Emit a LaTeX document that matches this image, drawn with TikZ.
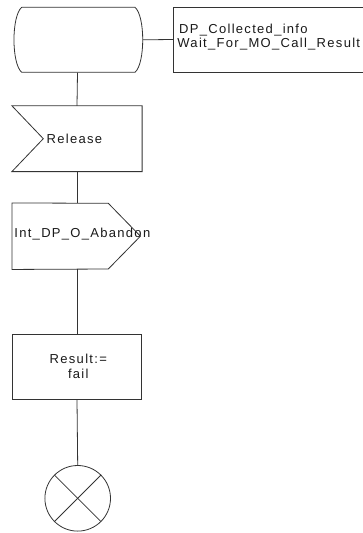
\documentclass[tikz,border=0pt]{standalone}
\usepackage{fontspec}
\setmainfont{Liberation Sans}[LetterSpace=10]
\begin{document}
\begin{tikzpicture}[x=1pt,y=-1pt,
  line width=0.8pt,
  lnk/.style={draw=black!80},
  frame/.style={draw=none,rectangle,inner sep=0pt},
  txt/.style={inner sep=0pt,font=\fontsize{13}{14}\selectfont,text=black!90},
]
\useasboundingbox (0,0) rectangle (363,533);
\clip (0,0) rectangle (363,533);
% state
\node[frame,minimum width=130.4pt,minimum height=65pt] (st) at (77.5,39.8) {};
\draw[black!80] (21.7,7.3) -- (135,7.3) .. controls (145.3,16) and (145.3,63.6) .. (135,72.3)
  -- (21.7,72.3) .. controls (11.4,63.6) and (11.4,16) .. (21.7,7.3);
% comment box
\node[frame,minimum width=192pt,minimum height=64.4pt] (tb) at (269.7,39.5) {};
\draw[black!80] (tb.north east) -- (tb.north west) -- (tb.south west) -- (tb.south east);
\node[txt,anchor=base west] (tbt) at (178.8,33.3) {DP\_Collected\_info};
\node[txt,anchor=base west] (tbt2) at (177,47.3) {Wait\_For\_MO\_Call\_Result};
% input
\node[frame,minimum width=129.4pt,minimum height=65pt] (rel) at (77,138.7) {};
\draw[black!80] (rel.north west) -- (rel.north east) -- (rel.south east) -- (rel.south west)
  -- (43.3,138.7) -- cycle;
\node[txt,anchor=base west] (relt) at (46.3,143.3) {Release};
% output
\node[frame,minimum width=127.7pt,minimum height=65.7pt] (out) at (76.15,236.2) {};
\draw[black!80] (out.north west) -- (108.3,203.3) -- (out.east) -- (108.3,269) -- (out.south west) -- cycle;
\node[txt,anchor=base west] (outt) at (14,237.2) {Int\_DP\_O\_Abandon};
% task
\node[frame,draw=black!80,minimum width=129.4pt,minimum height=65.3pt] (task) at (77,366.7) {};
\node[txt,anchor=base] (taskt) at (78.3,363.3) {Result:=};
\node[txt,anchor=base] (taskt2) at (78.3,378.3) {fail};
% stop
\node[draw=black!80,circle,minimum size=65.6pt,inner sep=0pt] (stop) at (77.7,498.3) {};
\draw[black!80] (stop.north west) -- (stop.south east);
\draw[black!80] (stop.north east) -- (stop.south west);
% connectors
\draw[lnk] (st.east) -- (tb.west);
\draw[lnk] (st.south) -- (rel.north);
\draw[lnk] (rel.south) -- (out.north -| rel.south);
\draw[lnk] (out.south -| rel.south) -- (task.north);
\draw[lnk] (task.south) -- (stop.north);
\end{tikzpicture}
\end{document}
